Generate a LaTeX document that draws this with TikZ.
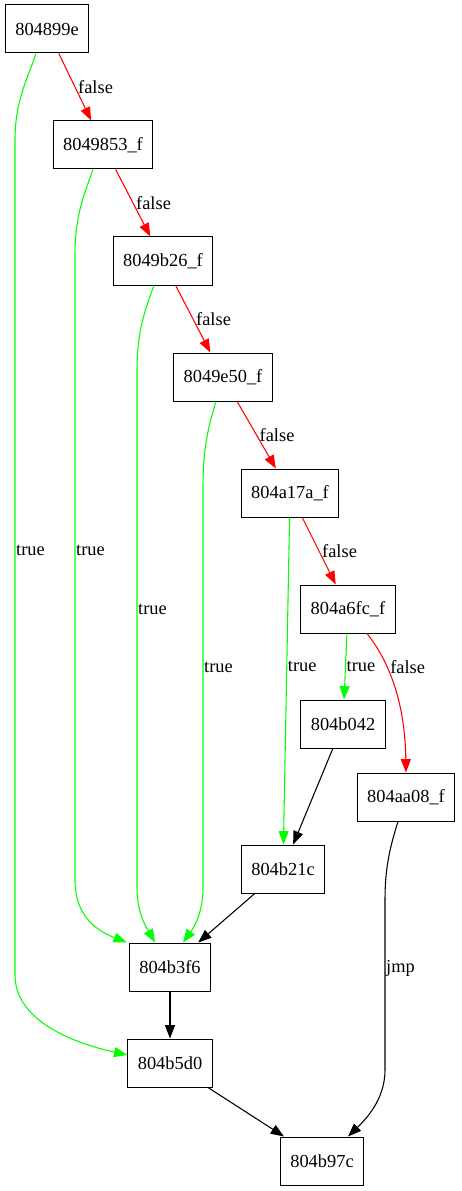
\documentclass[tikz,border=0pt]{standalone}
\usepackage{fontspec}
\setmainfont{Liberation Serif}
\usetikzlibrary{arrows.meta}
\usetikzlibrary{calc}

\begin{document}
\begin{tikzpicture}[x=0.75pt,y=-0.75pt,
  blk/.style={draw, line width=0.75pt, minimum height=36pt, minimum width=54pt, inner xsep=7.5pt, font=\fontsize{13.8}{16}\selectfont},
  ed/.style={line width=0.8pt, -{Triangle[length=10pt,width=7.5pt]}},
  fe/.style={ed, red},
  te/.style={ed, green},
  je/.style={ed, black},
  lbl/.style={font=\fontsize{13.8}{16}\selectfont, text=black, inner sep=2pt, anchor=west},
  tl/.style={lbl, inner sep=0.5pt}]
\useasboundingbox (0,0) rectangle (461,1191);

% blocks
\node[blk] (n804899e) at (47,29)   {804899e};
\node[blk] (n8049853) at (103,145) {8049853\_f};
\node[blk] (n8049b26) at (163,261) {8049b26\_f};
\node[blk] (n8049e50) at (223,377) {8049e50\_f};
\node[blk] (n804a17a) at (290,493) {804a17a\_f};
\node[blk] (n804a6fc) at (348,609) {804a6fc\_f};
\node[blk] (n804b042) at (343,724) {804b042};
\node[blk] (n804aa08) at (406,797) {804aa08\_f};
\node[blk] (n804b21c) at (283,869) {804b21c};
\node[blk] (n804b3f6) at (170,967) {804b3f6};
\node[blk] (n804b5d0) at (170,1063) {804b5d0};
\node[blk] (n804b97c) at (322,1161) {804b97c};

% false branches
\draw[fe] (n804899e) -- node[lbl]{false} (n8049853);
\draw[fe] (n8049853) -- node[lbl]{false} (n8049b26);
\draw[fe] (n8049b26) -- node[lbl]{false} (n8049e50);
\draw[fe] (n8049e50) -- node[lbl]{false} (n804a17a);
\draw[fe] (n804a17a) -- node[lbl]{false} (n804a6fc);
\draw[fe] ($(n804a6fc.south)+(19,0)$) .. controls (388,660) and (405,700) .. node[lbl,pos=0.35]{false} (n804aa08.north);

% true branches
\draw[te] ($(n804899e.south)+(-11,0)$) .. controls (28,78) and (15,100) .. (15,140) -- (15,550) node[tl]{true}
  -- (15,975) .. controls (15,1015) and (60,1040) .. ($(n804b5d0.west)+(0,-8)$);
\draw[te] ($(n8049853.south)+(-10,0)$) .. controls (84,195) and (75,215) .. (75,255) -- (75,550) node[tl]{true}
  -- (75,880) .. controls (75,915) and (95,930) .. ($(n804b3f6.north west)+(-2,0)$);
\draw[te] ($(n8049b26.south)+(-9,0)$) .. controls (145,310) and (137,330) .. (137,372) -- (137,609) node[tl]{true}
  -- (137,888) .. controls (137,915) and (148,930) .. ($(n804b3f6.north)+(-15,0)$);
\draw[te] ($(n8049e50.south)+(-7,0)$) .. controls (209,425) and (203,445) .. (203,488) -- (203,667) node[tl]{true}
  -- (203,888) .. controls (203,915) and (192,930) .. ($(n804b3f6.north)+(13,0)$);
\draw[te] (n804a17a) -- node[tl,pos=0.455]{true} (n804b21c);
\draw[te] (n804a6fc) -- node[tl]{true} (n804b042);

% plain flow
\draw[je] (n804b042) -- (n804b21c);
\draw[je] (n804b21c) -- (n804b3f6);
\draw[je] (n804b3f6) -- (n804b5d0);
\draw[je] (n804b5d0) -- (n804b97c);
\draw[je] ($(n804aa08.south)+(-8,0)$) .. controls (389,850) and (385,870) .. (385,900) -- (385,968) node[tl]{jmp}
  -- (385,1070) .. controls (385,1100) and (365,1120) .. ($(n804b97c.north)+(26,0)$);
\end{tikzpicture}
\end{document}
